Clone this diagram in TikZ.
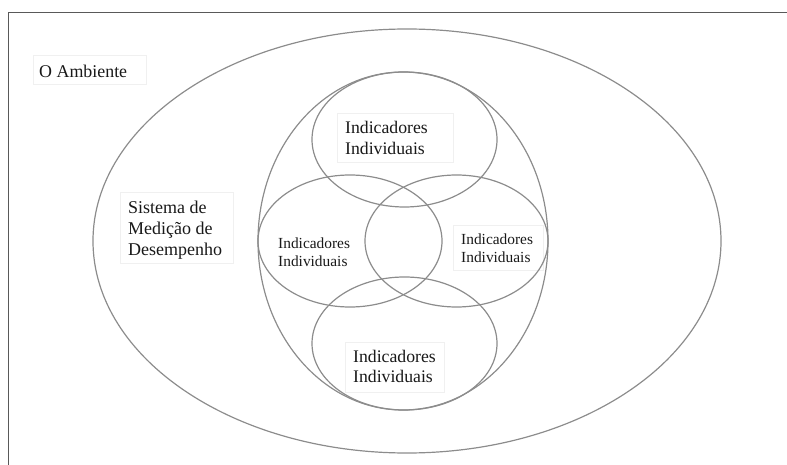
\documentclass[tikz,border=0pt]{standalone}
\usepackage{fontspec}
\setmainfont{Liberation Serif}
\begin{document}
\begin{tikzpicture}[x=1pt,y=-1pt,
  frame/.style={draw=black!65, line width=1.6pt},
  ring/.style={draw=black!45, line width=1.2pt},
  labelbox/.style={draw=black!6, fill=white, line width=0.6pt},
  bigtext/.style={font=\fontsize{17.7}{20.7}\selectfont, align=left, anchor=north west, inner sep=0pt, text=black!90},
  smalltext/.style={font=\fontsize{15.4}{17.9}\selectfont, align=left, anchor=north west, inner sep=0pt, text=black!90},
]
\useasboundingbox (0,0) rectangle (787,465);
\clip (0,0) rectangle (787,465);

% outer frame (runs past the right and bottom edges)
\draw[frame] (8.5,12.5) rectangle (800,480);

% faint label panels
\draw[labelbox] (33,55) rectangle (146,84);
\draw[labelbox] (120,192) rectangle (233,263);
\draw[labelbox] (337,113) rectangle (453,162);
\draw[labelbox] (453,225) rectangle (543,270);
\draw[labelbox] (345,342) rectangle (444,392);

% environment, system and the four indicator sets
\draw[ring] (407,241) ellipse [x radius=314, y radius=212];
\draw[ring] (403,241) ellipse [x radius=145, y radius=169];
\draw[ring] (404.5,139.5) ellipse [x radius=92.5, y radius=67.5];
\draw[ring] (404.5,343.5) ellipse [x radius=92.5, y radius=66.5];
\draw[ring] (350,241) ellipse [x radius=92, y radius=66];
\draw[ring] (456.5,241) ellipse [x radius=91.5, y radius=66];

% labels
\node[bigtext, font=\fontsize{17.9}{21}\selectfont] (amb) at (39,64.8) {O Ambiente};
\node[bigtext, font=\fontsize{18}{21}\selectfont] (sis) at (128,200.7) {Sistema de\\Medição de\\Desempenho};
\node[bigtext] (itop) at (345,121.3) {Indicadores\\Individuais};
\node[smalltext] (ileft) at (278,237.8) {Indicadores\\Individuais};
\node[smalltext] (iright) at (461,233.8) {Indicadores\\Individuais};
\node[bigtext] (ibot) at (353,349.7) {Indicadores\\Individuais};
\end{tikzpicture}
\end{document}
